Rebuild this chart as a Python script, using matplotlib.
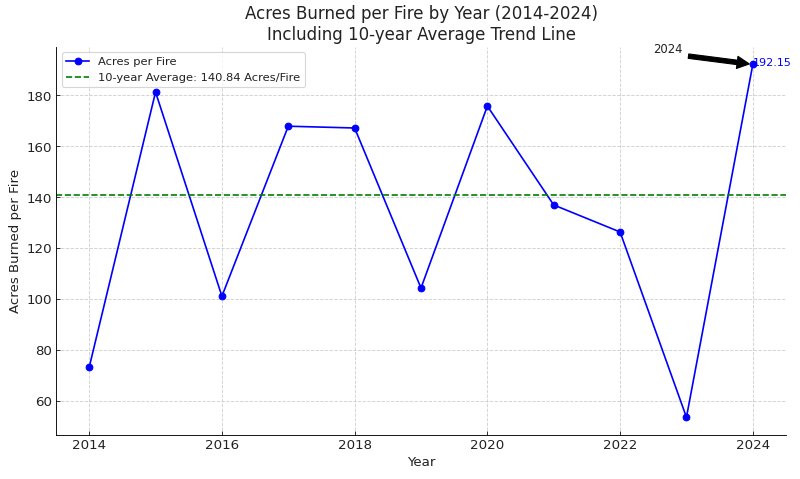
import matplotlib.pyplot as plt

years = [2014, 2015, 2016, 2017, 2018, 2019, 2020, 2021, 2022, 2023, 2024]
acres_per_fire = [73.3, 181.3, 101.2, 167.9, 167.2, 104.4, 175.8, 137.0, 126.4, 53.7, 192.15]
avg_acres = 140.84

plt.rcParams['text.color'] = '#222222'
plt.rcParams['axes.labelcolor'] = '#222222'
plt.rcParams['xtick.color'] = '#222222'
plt.rcParams['ytick.color'] = '#222222'

fig, ax = plt.subplots(figsize=(10, 5.99), dpi=80)
fig.subplots_adjust(left=0.07, right=0.9825, bottom=0.092, top=0.902)

ax.plot(years, acres_per_fire, marker='o', color='blue', markersize=6, linewidth=1.5, label='Acres per Fire')
ax.axhline(avg_acres, color='green', linestyle='--', linewidth=1.5,
           label=f'10-year Average: {avg_acres:.2f} Acres/Fire')

# label the last year
ax.annotate('2024', xy=(years[-1], acres_per_fire[-1]), xytext=(years[-1] - 1.5, acres_per_fire[-1] + 4.7),
            arrowprops=dict(facecolor='black', shrink=0.05, width=4, headwidth=11, headlength=11),
            fontsize=10.5, ha='left')
ax.text(years[-1], acres_per_fire[-1] - 1.3, f'{acres_per_fire[-1]:.2f}', color='blue', fontsize=10,
        va='bottom', ha='left')

ax.set_title('Acres Burned per Fire by Year (2014-2024)\nIncluding 10-year Average Trend Line', fontsize=15)
ax.set_xlabel('Year', fontsize=12)
ax.set_ylabel('Acres Burned per Fire', fontsize=12)
ax.grid(True, linestyle='--', color='#d0d0d0', linewidth=0.8)
ax.tick_params(direction='in', labelsize=12)
ax.spines['top'].set_visible(False)
ax.spines['right'].set_visible(False)
ax.legend(loc='upper left', fontsize=10.3)

plt.savefig('out.png', dpi=80)
